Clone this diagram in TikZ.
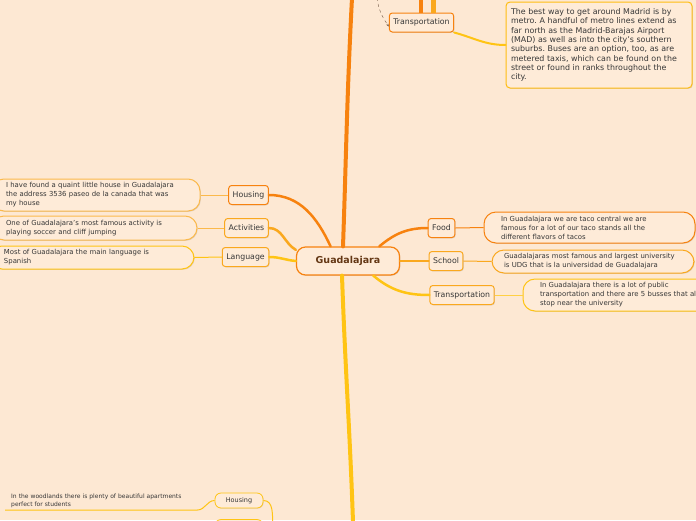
\documentclass[tikz,border=0pt]{standalone}
\usepackage{fontspec}
\setmainfont{DejaVu Sans}
\usetikzlibrary{arrows.meta,shadows}
\definecolor{paper}{RGB}{253,232,211}
\definecolor{card}{RGB}{254,235,216}
\definecolor{ink}{RGB}{55,55,55}
\definecolor{hubink}{RGB}{100,55,20}
\definecolor{mmorange}{RGB}{247,130,15}
\definecolor{mmamber}{RGB}{250,168,30}
\definecolor{mmyellow}{RGB}{255,196,20}
\definecolor{dashink}{RGB}{120,95,75}
\frenchspacing
\begin{document}
\begin{tikzpicture}[
  x=1pt,y=-1pt,
  hub/.style={draw=mmorange,line width=1.2pt,fill=card,rounded corners=9pt,minimum width=103pt,minimum height=28pt,text=hubink,font=\fontsize{9.5}{11}\selectfont\bfseries,drop shadow={shadow xshift=0.8pt,shadow yshift=-0.8pt,opacity=0.25}},
  topic/.style={draw=#1,line width=1pt,fill=card,rounded corners=3pt,minimum height=19pt,inner xsep=4pt,text=ink,font=\fontsize{7.8}{9}\selectfont,drop shadow={shadow xshift=0.8pt,shadow yshift=-0.8pt,opacity=0.25}},
  subtopic/.style={draw=#1,line width=0.8pt,fill=card,rounded corners=6pt,minimum width=48pt,minimum height=15pt,text=ink,font=\fontsize{6.5}{8}\selectfont,drop shadow={shadow xshift=0.6pt,shadow yshift=-0.6pt,opacity=0.25}},
  note/.style={draw=#1,line width=1pt,fill=card,rounded corners=12pt,align=left,inner sep=0pt,text=ink,font=\fontsize{6.9}{9}\selectfont,drop shadow={shadow xshift=0.8pt,shadow yshift=-0.8pt,opacity=0.25}},
  branch/.style={draw=#1,line width=2.5pt,line cap=round},
  link/.style={draw=#1,line width=1pt}
]
  \useasboundingbox (0,0) rectangle (696,520);
  \fill[paper] (0,0) rectangle (696,520);
  \clip (0,0) rectangle (696,520);

  \coordinate (upper) at (352,-2);
  \coordinate (lower) at (353,522);
  \coordinate (topa) at (421,-2);
  \coordinate (topb) at (433,-2);
  \coordinate (dashstart) at (377,-2);
  \coordinate (woodroot) at (273,526);

  \node[hub] (hub) at (348,261) {Guadalajara};

  \node[topic=mmorange] (housing) at (248.5,195) {Housing};
  \node[topic=mmamber] (activities) at (246.5,228) {Activities};
  \node[topic=mmamber] (language) at (245.5,257) {Language};
  \node[topic=mmorange] (food) at (441.5,228) {Food};
  \node[topic=mmamber] (school) at (446,261) {School};
  \node[topic=mmamber] (transport) at (462,295) {Transportation};
  \node[topic=mmorange] (toptransport) at (421.5,22.5) {Transportation};
  \node[subtopic=mmyellow] (woodhousing) at (239,500.5) {Housing};
  \node[subtopic=mmyellow] (nextsub) at (239,527) {};

  \node[note=mmamber!80,minimum width=208pt,minimum height=32pt,text width=180pt] (housenote) at (96,195)
    {I have found a quaint little house in Guadalajara\\the address 3536 paseo de la canada that was\\my house};
  \node[note=mmamber!80,minimum width=205pt,minimum height=24pt,text width=177pt] (actnote) at (94.5,228)
    {One of Guadalajara's most famous activity is\\playing soccer and cliff jumping};
  \node[note=mmyellow,minimum width=204pt,minimum height=23pt,text width=176pt] (langnote) at (92,257.5)
    {Most of Guadalajara the main language is\\Spanish};
  \node[note=mmorange,minimum width=211pt,minimum height=31pt,text width=177pt] (foodnote) at (589.5,227.5)
    {In Guadalajara we are taco central we are\\famous for a lot of our taco stands all the\\different flavors of tacos};
  \node[note=mmamber,minimum width=202pt,minimum height=23pt,text width=178pt] (schoolnote) at (593,261.5)
    {Guadalajaras most famous and largest university\\is UDG that is la universidad de Guadalajara};
  \node[note=mmyellow,minimum width=212pt,minimum height=32pt,text width=178pt] (transnote) at (629,295)
    {In Guadalajara there is a lot of public\\transportation and there are 5 busses that all\\stop near the university};
  \node[note=mmyellow!90!orange,rounded corners=4pt,minimum width=186pt,minimum height=86pt,text width=176pt,font=\fontsize{7.9}{9.35}\selectfont] (bignote) at (599,45)
    {The best way to get around Madrid is by\\metro. A handful of metro lines extend as\\far north as the Madrid-Barajas Airport\\(MAD) as well as into the city's southern\\suburbs. Buses are an option, too, as are\\metered taxis, which can be found on the\\street or found in ranks throughout the\\city.};
  \node[inner sep=0pt,text width=180pt,align=left,text=ink,font=\fontsize{6}{8.2}\selectfont,anchor=south west,inner xsep=6pt,inner ysep=2pt] (woodnote) at (5,510)
    {In the woodlands there is plenty of beautiful apartments\\perfect for students};

  \draw[branch=mmorange,line width=4pt] ([xshift=-5pt]hub.north) to[out=88,in=-93] (upper);
  \draw[branch=mmyellow,line width=4pt] ([xshift=-6pt]hub.south) to[out=-88,in=92] (lower);
  \draw[mmorange,line width=4pt] (topa) -- (toptransport.north -| topa);
  \draw[mmamber,line width=5pt] (topb) -- (toptransport.north -| topb);
  \draw[dashed,dashink,-{Stealth[length=3pt]}] (dashstart) to[out=-82,in=125] ([yshift=-4pt]toptransport.west);
  \draw[branch=mmyellow,line width=2pt] (toptransport.south east) to[out=-15,in=180] (bignote.west);

  \draw[branch=mmorange] (hub.140) to[out=115,in=0] (housing.east);
  \draw[branch=mmamber] (hub.168) to[out=150,in=0] (activities.east);
  \draw[branch=mmyellow] (hub.west) to[out=175,in=0] (language.east);
  \draw[branch=mmorange] (hub.25) to[out=40,in=180] (food.west);
  \draw[branch=mmamber] (hub.east) to[out=0,in=180] (school.west);
  \draw[branch=mmyellow] (hub.-30) to[out=-40,in=180] (transport.west);

  \draw[link=mmamber!80] (housing.west) -- (housenote.east);
  \draw[link=mmamber!80] (activities.west) -- (actnote.east);
  \draw[link=mmyellow] (language.west) -- (langnote.east);
  \draw[link=mmorange] (food.east) -- (foodnote.west);
  \draw[link=mmamber] (school.east) -- (schoolnote.west);
  \draw[link=mmyellow!80] (transport.east) -- (transnote.west);

  \draw[link=mmyellow] (woodhousing.west) to[out=180,in=0] (woodnote.south east) -- (woodnote.south west);
  \draw[link=mmyellow] (woodhousing.east) to[out=0,in=95] (woodroot);
\end{tikzpicture}
\end{document}
